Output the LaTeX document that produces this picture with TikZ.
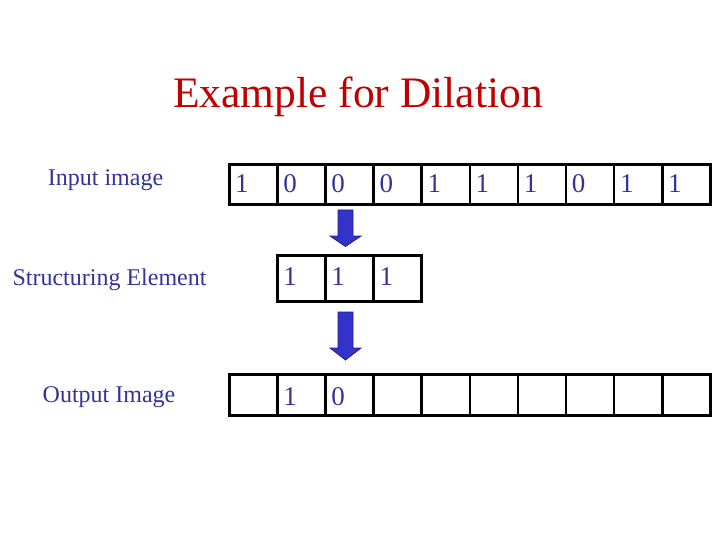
\documentclass[tikz,border=0pt]{standalone}
\usepackage{fontspec}
\setmainfont{Liberation Serif}
\definecolor{titlered}{RGB}{192,0,0}
\definecolor{navytext}{RGB}{51,51,153}
\definecolor{arrowfill}{RGB}{51,51,204}
\definecolor{arrowedge}{RGB}{30,30,140}
\begin{document}
\begin{tikzpicture}[x=1pt,y=-1pt,
  cellbox/.style={draw=black,line width=2.6pt,minimum width=48.1pt,minimum height=40pt,inner sep=0pt,anchor=north west},
  secell/.style={cellbox,minimum height=46pt},
  digit/.style={anchor=base west,inner sep=0pt,text=navytext,font=\fontsize{27}{30}\selectfont},
  lbl/.style={anchor=base,inner sep=0pt,text=navytext,font=\fontsize{24}{28}\selectfont},
  downarrow/.style={fill=arrowfill,draw=arrowedge,line width=0.8pt,line join=miter}]
\useasboundingbox (0,0) rectangle (720,540);
% title
\node[anchor=base,inner sep=0pt,text=titlered,font=\fontsize{43.5}{50}\selectfont] (title) at (358,108) {Example for Dilation};
% labels
\node[lbl] (lin) at (105.5,186) {Input image};
\node[lbl] (lse) at (109.5,285) {Structuring Element};
\node[lbl] (lout) at (109,402) {Output Image};
% input row
\foreach \v [count=\i] in {1,0,0,0,1,1,1,0,1,1}{
  \node[cellbox] (in\i) at ({228+48.1*(\i-1)},163) {};
  \node[digit] (din\i) at ({235+48.1*(\i-1)},193) {\v};
}
% structuring element
\foreach \v [count=\i] in {1,1,1}{
  \node[secell] (se\i) at ({276.1+48.1*(\i-1)},254) {};
  \node[digit] (dse\i) at ({283.1+48.1*(\i-1)},285.5) {\v};
}
% output row
\foreach \i in {1,...,10}{
  \node[cellbox,minimum height=41pt] (out\i) at ({228+48.1*(\i-1)},373) {};
}
\node[digit] (dout2) at (283.1,405) {1};
\node[digit] (dout3) at (331.2,405) {0};
% arrows
\draw[downarrow] (338,210) -- (353,210) -- (353,236) -- (361,236) -- (345.5,246.5) -- (330,236) -- (338,236) -- cycle;
\draw[downarrow] (338,312) -- (353,312) -- (353,348) -- (361,348) -- (345.5,360) -- (330,348) -- (338,348) -- cycle;
\end{tikzpicture}
\end{document}
